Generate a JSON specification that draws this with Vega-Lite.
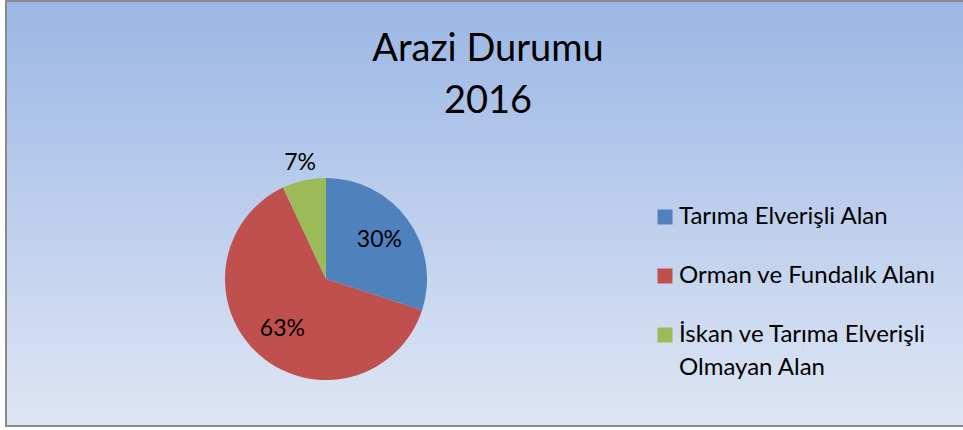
{
  "$schema": "https://vega.github.io/schema/vega-lite/v6.json",
  "width": 975,
  "height": 425,
  "autosize": {"type": "none"},
  "padding": {"left": 6, "top": 1, "right": 0, "bottom": 4},
  "background": "white",
  "view": {
    "fill": {
      "gradient": "linear",
      "x1": 0, "y1": 0, "x2": 0, "y2": 1,
      "stops": [
        {"offset": 0, "color": "#9bb7e5"},
        {"offset": 1, "color": "#dee6f4"}
      ]
    },
    "stroke": "#8a8a8a",
    "strokeWidth": 2
  },
  "title": {
    "text": ["Arazi Durumu", "2016"],
    "anchor": "start",
    "frame": "group",
    "dx": 482,
    "font": "Lato",
    "fontSize": 38,
    "fontWeight": "normal",
    "color": "#000000",
    "lineHeight": 52,
    "baseline": "top",
    "align": "center",
    "offset": -120
  },
  "config": {
    "font": "Lato"
  },
  "data": {
    "values": [
      {"alan": "Tarıma Elverişli Alan", "oran": 30, "sira": 1, "etiket": "30%"},
      {"alan": "Orman ve Fundalık Alanı", "oran": 63, "sira": 2, "etiket": "63%"},
      {"alan": "İskan ve Tarıma Elverişli Olmayan Alan", "oran": 7, "sira": 3, "etiket": "7%"}
    ]
  },
  "encoding": {
    "theta": {"field": "oran", "type": "quantitative", "stack": true},
    "order": {"field": "sira", "type": "quantitative"}
  },
  "layer": [
    {
      "mark": {"type": "arc", "outerRadius": 101, "x": 320, "y": 278},
      "encoding": {
        "color": {
          "field": "alan",
          "type": "nominal",
          "scale": {
            "domain": ["Tarıma Elverişli Alan", "Orman ve Fundalık Alanı", "İskan ve Tarıma Elverişli Olmayan Alan"],
            "range": ["#4f81bd", "#c0504d", "#9bbb59"]
          },
          "legend": {
            "title": null,
            "orient": "none",
            "legendX": 647,
            "legendY": 204,
            "symbolType": "square",
            "symbolSize": 225,
            "symbolStrokeWidth": 0,
            "labelFont": "Lato",
            "labelFontSize": 24,
            "labelColor": "#000000",
            "labelLimit": 400,
            "labelOffset": 2,
            "labelBaseline": "alphabetic",
            "rowPadding": 35,
            "labelExpr": "datum.label == 'İskan ve Tarıma Elverişli Olmayan Alan' ? ['İskan ve Tarıma Elverişli', 'Olmayan Alan'] : datum.label",
            "encode": {
              "labels": {"update": {"dy": {"value": 7}, "lineHeight": {"value": 33}}}
            }
          }
        }
      }
    },
    {
      "mark": {"type": "text", "radius": 66, "x": 320, "y": 278, "fontSize": 23, "font": "Lato", "color": "#000000"},
      "encoding": {
        "text": {"condition": {"test": "datum.oran < 10", "value": ""}, "field": "etiket", "type": "nominal"}
      }
    },
    {
      "mark": {"type": "text", "radius": 119, "x": 320, "y": 278, "fontSize": 23, "font": "Lato", "color": "#000000"},
      "encoding": {
        "text": {"condition": {"test": "datum.oran >= 10", "value": ""}, "field": "etiket", "type": "nominal"}
      }
    }
  ]
}
